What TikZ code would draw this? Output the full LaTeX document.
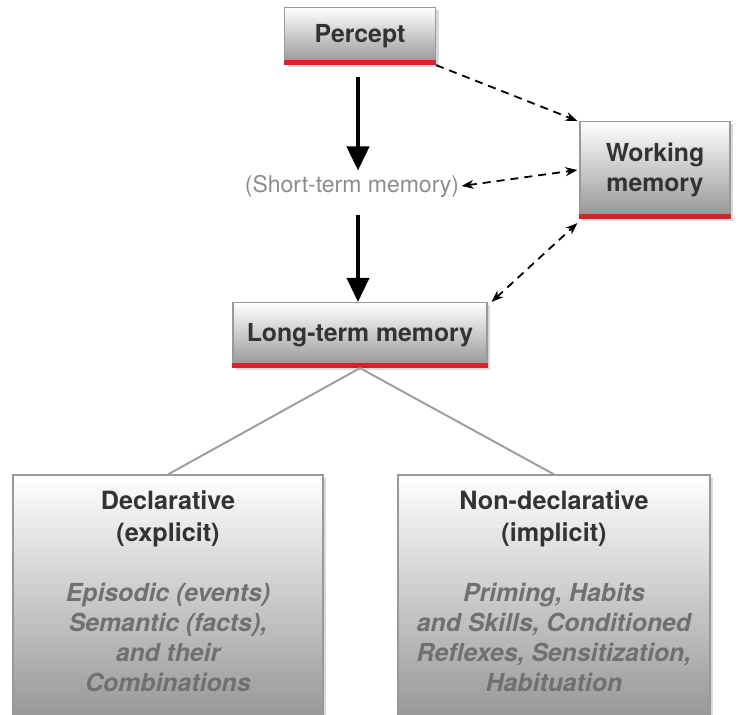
\documentclass[tikz,border=0pt]{standalone}
\usepackage{fontspec}
\setmainfont{TeX Gyre Heros}
\usetikzlibrary{arrows.meta,positioning,shadows}

\definecolor{barred}{HTML}{D7232E}
\definecolor{textgray}{HTML}{333333}
\definecolor{itgray}{HTML}{707070}
\definecolor{boxbottom}{HTML}{949494}

\tikzset{
	membox/.style={draw=gray!80, line width=0.6pt, top color=white, bottom color=boxbottom,
		drop shadow={opacity=0.3, shadow xshift=1.5pt, shadow yshift=-1.5pt},
		font=\bfseries\fontsize{12.4}{15}\selectfont, text=textgray, align=center, inner sep=0pt},
	redbar/.style={barred, line width=2.5pt},
	bigarrow/.style={-{Triangle[length=12pt,width=11pt]}, line width=2pt},
	dasharrow/.style={dashed, dash pattern=on 4pt off 3pt, line width=0.9pt},
	branch/.style={draw=gray!75, line width=1pt},
	titletext/.style={font=\bfseries\fontsize{12.6}{16}\selectfont, text=textgray, align=center},
	kindtext/.style={font=\bfseries\itshape\fontsize{12.4}{15}\selectfont, text=itgray, align=center}
}

\begin{document}
\begin{tikzpicture}[x=0.5pt, y=-0.5pt]
	\useasboundingbox (0,0) rectangle (741,715);

	\node[membox, minimum width=75.5pt, minimum height=28.5pt] (percept) at (360,36) {Percept};
	\node[membox, minimum width=75pt, minimum height=48.5pt] (wm) at (655,170) {Working\\memory};
	\node[membox, minimum width=127pt, minimum height=32.5pt] (ltm) at (360,335) {Long-term memory};
	\node[font=\fontsize{11.5}{12}\selectfont, text=gray!90, inner sep=1pt] (stm) at (352,186) {(Short-term memory)};

	\node[membox, minimum width=155pt, minimum height=125pt] (decl) at (168,600) {};
	\node[membox, minimum width=156pt, minimum height=125pt] (nondecl) at (554,600) {};

	\node[titletext] (decltitle) at (168,519) {Declarative\\(explicit)};
	\node[titletext] (nondecltitle) at (554,519) {Non-declarative\\(implicit)};
	\node[kindtext] (declkinds) at (168,637) {Episodic (events)\\Semantic (facts),\\and their\\Combinations};
	\node[kindtext] (nondeclkinds) at (554,637) {Priming, Habits\\and Skills, Conditioned\\Reflexes, Sensitization,\\Habituation};

	\foreach \n in {percept, wm, ltm}
	{
		\draw[redbar] ([yshift=1.25pt]\n.south west) -- ([yshift=1.25pt]\n.south east);
	};

	\draw[bigarrow, shorten <=6pt, shorten >=1pt] ([xshift=-1pt]percept.south) -- ([xshift=-1pt]percept.south |- stm.north);
	\draw[bigarrow, shorten <=8pt] ([xshift=-1pt]ltm.north |- stm.south) -- ([xshift=-1pt]ltm.north);

	\draw[dasharrow, -{Stealth[length=6pt]}] (percept.south east) -- ([xshift=-1pt]wm.north west);
	\draw[dasharrow, {Stealth[length=6pt]}-{Stealth[length=6pt]}] (stm.east) -- ([xshift=-1pt]wm.west);
	\draw[dasharrow, {Stealth[length=6pt]}-{Stealth[length=6pt]}] ([xshift=2pt]ltm.north east) -- ([xshift=-1pt, yshift=-2pt]wm.south west);

	\draw[branch] (ltm.south) -- (decl.north);
	\draw[branch] (ltm.south) -- (nondecl.north);
\end{tikzpicture}
\end{document}
